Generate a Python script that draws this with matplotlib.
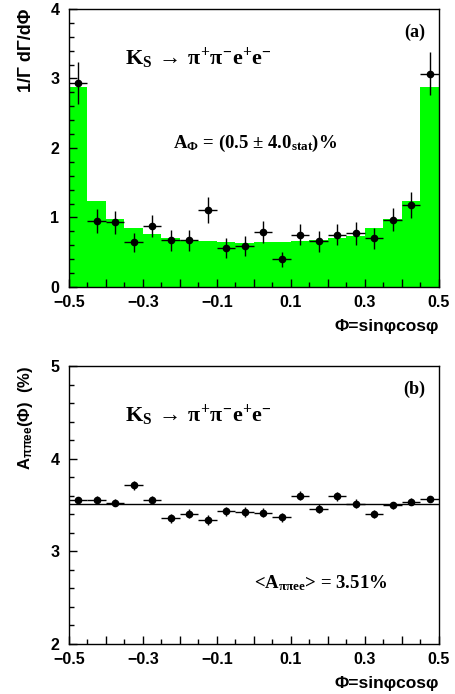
import numpy as np
import matplotlib
matplotlib.use("Agg")
import matplotlib.pyplot as plt
from matplotlib.ticker import MultipleLocator

plt.rcParams["mathtext.fontset"] = "custom"
plt.rcParams["mathtext.rm"] = "Liberation Serif:bold"
plt.rcParams["mathtext.it"] = "Liberation Serif:bold"
plt.rcParams["mathtext.bf"] = "Liberation Serif:bold"
plt.rcParams["mathtext.sf"] = "Liberation Sans:bold"

# bin edges in phi = sin(phi)cos(phi)
edges = np.linspace(-0.5, 0.5, 21)
centers = 0.5 * (edges[:-1] + edges[1:])
half_width = 0.025

# Monte Carlo expectation (green histogram)
mc_density = [2.88, 1.23, 0.975, 0.845, 0.763, 0.706, 0.682, 0.663, 0.653, 0.639,
              0.643, 0.648, 0.658, 0.677, 0.711, 0.735, 0.845, 0.975, 1.234, 2.88]
# measured distribution
data_density = [2.93, 0.95, 0.93, 0.64, 0.88, 0.67, 0.67, 1.11, 0.56, 0.59,
                0.79, 0.40, 0.75, 0.66, 0.75, 0.77, 0.70, 0.97, 1.18, 3.07]
data_err = [0.30, 0.17, 0.17, 0.13, 0.16, 0.15, 0.15, 0.19, 0.14, 0.14,
            0.16, 0.11, 0.15, 0.15, 0.15, 0.16, 0.15, 0.17, 0.19, 0.31]

# acceptance per bin, in percent
acc = [3.549, 3.559, 3.527, 3.714, 3.556, 3.358, 3.405, 3.337, 3.434, 3.426,
       3.416, 3.369, 3.599, 3.459, 3.595, 3.516, 3.405, 3.495, 3.538, 3.570]
acc_err = [0.03, 0.035, 0.04, 0.05, 0.045, 0.05, 0.05, 0.05, 0.05, 0.05,
           0.05, 0.05, 0.05, 0.05, 0.05, 0.05, 0.045, 0.04, 0.035, 0.025]
acc_mean = 3.51

tick_font = dict(family="Liberation Sans", weight="bold", size=11.5)
decay = r"K$_{\rm S}$$\,\rightarrow\,\pi^{+}\pi^{-}{\rm e}^{+}{\rm e}^{-}$"


def style_axes(ax, ymin, ymax):
    ax.set_xlim(-0.5, 0.5)
    ax.set_ylim(ymin, ymax)
    ax.xaxis.set_minor_locator(MultipleLocator(0.05))
    ax.yaxis.set_major_locator(MultipleLocator(1))
    ax.yaxis.set_minor_locator(MultipleLocator(0.2))
    ax.set_xticks([-0.5, -0.4, -0.3, -0.2, -0.1, 0.0, 0.1, 0.2, 0.3, 0.4, 0.5])
    ax.set_xticklabels(["\u22120.5", "", "\u22120.3", "", "\u22120.1", "",
                        "0.1", "", "0.3", "", "0.5"])
    ax.tick_params(which="both", direction="in", top=False, right=False, width=1)
    ax.tick_params(which="major", length=6, pad=6)
    ax.tick_params(axis="y", which="major", pad=7)
    ax.tick_params(which="minor", length=3.5)
    for lab in ax.get_xticklabels() + ax.get_yticklabels():
        lab.set_fontproperties(tick_font)
    for sp in ax.spines.values():
        sp.set_linewidth(1.0)
    ax.set_xlabel("\u03a6=sin\u03c6cos\u03c6", family="Liberation Sans",
                  weight="bold", size=12.5, loc="right", labelpad=6)


fig = plt.figure(figsize=(4.55, 6.94), dpi=100)
ax1 = fig.add_axes([0.1516, 0.5865, 0.813, 0.4006])
ax2 = fig.add_axes([0.1516, 0.072, 0.813, 0.4006])

# (a) angular distribution
ax1.stairs(mc_density, edges, fill=True, color="#00ff00", linewidth=0)
ax1.errorbar(centers, data_density, xerr=half_width, yerr=data_err, fmt="o",
             color="black", markersize=4.5, elinewidth=1, capsize=0)
style_axes(ax1, 0, 4)
ax1.set_ylabel("1/\u0393 d\u0393/d\u03a6", family="Liberation Sans", weight="bold",
               size=13, loc="top", labelpad=11)
ax1.text(0.151, 0.80, decay, transform=ax1.transAxes, family="Liberation Serif",
         weight="bold", size=16, va="baseline")
ax1.text(0.28, 0.50, r"A$_{\Phi}$ = (0.5 $\pm$ 4.0$_{\rm stat}$)%",
         transform=ax1.transAxes, family="Liberation Serif", weight="bold",
         size=13.5, va="baseline")
ax1.text(0.964, 0.90, "(a)", transform=ax1.transAxes, family="Liberation Serif",
         weight="bold", size=13, ha="right", va="baseline")

# (b) acceptance versus phi
ax2.axhline(acc_mean, color="black", linewidth=1)
ax2.errorbar(centers, acc, xerr=half_width, yerr=acc_err, fmt="o",
             color="black", markersize=4.5, elinewidth=1, capsize=0)
style_axes(ax2, 2, 5)
ax2.set_ylabel("A$_{\\mathsf{\\pi\\pi ee}}$(\u03a6)  (%)", family="Liberation Sans",
               weight="bold", size=12, loc="top", labelpad=11)
ax2.text(0.151, 0.80, decay, transform=ax2.transAxes, family="Liberation Serif",
         weight="bold", size=16, va="baseline")
ax2.text(0.50, 0.20, r"<A$_{\pi\pi{\rm ee}}$> = 3.51%", transform=ax2.transAxes,
         family="Liberation Serif", weight="bold", size=13.5, va="baseline")
ax2.text(0.964, 0.90, "(b)", transform=ax2.transAxes, family="Liberation Serif",
         weight="bold", size=13, ha="right", va="baseline")

fig.savefig("out.png", dpi=100)
